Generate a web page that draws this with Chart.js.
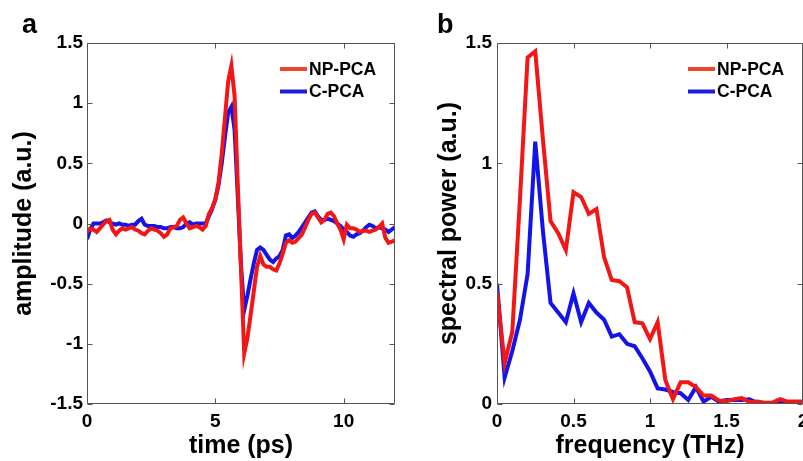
<!DOCTYPE html>
<html><head><meta charset="utf-8">
<script src="https://cdn.jsdelivr.net/npm/chart.js@4"></script>
<style>
html,body{margin:0;padding:0;background:#fff;overflow:hidden;width:803px;height:461px;}
canvas{position:absolute;top:0;}
</style></head><body>
<canvas id="ca" width="400" height="461" style="left:0;width:400px;height:461px"></canvas>
<canvas id="cb" width="420" height="461" style="left:400px;width:420px;height:461px"></canvas>
<script>
// ---------- data ----------
const seriesLabels = ['NP-PCA', 'C-PCA'];

const timePs = [0,0.125,0.25,0.375,0.5,0.625,0.75,0.875,1,1.125,1.25,1.375,1.5,1.625,1.75,1.875,2,2.125,2.25,2.375,2.5,2.625,2.75,2.875,3,3.125,3.25,3.375,3.5,3.625,3.75,3.875,4,4.125,4.25,4.375,4.5,4.625,4.75,4.875,5,5.125,5.25,5.375,5.5,5.625,5.75,5.875,6,6.125,6.25,6.375,6.5,6.625,6.75,6.875,7,7.125,7.25,7.375,7.5,7.625,7.75,7.875,8,8.125,8.25,8.375,8.5,8.625,8.75,8.875,9,9.125,9.25,9.375,9.5,9.625,9.75,9.875,10,10.125,10.25,10.375,10.5,10.625,10.75,10.875,11,11.125,11.25,11.375,11.5,11.625,11.75,11.875,12];

const ampNP = [-0.07,-0.04,-0.05,-0.07,-0.04,-0.01,0.02,0.03,-0.05,-0.09,-0.06,-0.04,-0.05,-0.04,-0.03,-0.05,-0.06,-0.08,-0.09,-0.06,-0.04,-0.05,-0.06,-0.08,-0.11,-0.09,-0.04,-0.03,-0.02,0.03,0.05,0.0,-0.04,-0.03,-0.02,-0.03,-0.05,-0.02,0.08,0.13,0.2,0.34,0.58,0.88,1.18,1.31,1.06,0.32,-0.38,-1.08,-0.95,-0.76,-0.56,-0.36,-0.27,-0.34,-0.36,-0.36,-0.38,-0.39,-0.33,-0.25,-0.16,-0.14,-0.16,-0.15,-0.12,-0.09,-0.03,0.03,0.08,0.09,0.05,0.01,0.03,0.08,0.09,0.06,0.0,-0.05,-0.13,-0.01,-0.04,-0.04,-0.05,-0.07,-0.06,-0.06,-0.07,-0.06,-0.05,-0.03,0.0,-0.12,-0.16,-0.15,-0.14];

const ampC = [-0.13,-0.05,0.0,0.0,0.0,0.01,0.025,0.01,0.0,-0.01,0.0,-0.01,-0.01,-0.02,-0.01,-0.01,0.02,0.04,-0.01,-0.02,-0.02,-0.02,-0.03,-0.03,-0.04,-0.04,-0.03,-0.03,-0.04,-0.04,-0.03,0.0,0.01,-0.01,0.0,0.0,0.0,0.0,0.06,0.12,0.2,0.32,0.5,0.72,0.92,0.97,0.78,0.22,-0.35,-0.72,-0.6,-0.46,-0.33,-0.22,-0.2,-0.22,-0.26,-0.3,-0.32,-0.29,-0.27,-0.22,-0.1,-0.09,-0.12,-0.1,-0.07,-0.03,0.01,0.05,0.09,0.1,0.06,0.03,0.03,0.04,0.03,0.02,0.0,-0.02,-0.05,-0.07,-0.1,-0.11,-0.09,-0.08,-0.06,-0.03,-0.01,-0.02,-0.04,-0.03,-0.04,-0.05,-0.07,-0.05,-0.03];

const freqTHz = [0,0.05,0.1,0.15,0.2,0.25,0.3,0.35,0.4,0.45,0.5,0.55,0.6,0.65,0.7,0.75,0.8,0.85,0.9,0.95,1,1.05,1.1,1.15,1.2,1.25,1.3,1.35,1.4,1.45,1.5,1.55,1.6,1.65,1.7,1.75,1.8,1.85,1.9,1.95,2];

const powNP = [0.47,0.17,0.3,0.85,1.44,1.465,1.1,0.76,0.71,0.64,0.88,0.86,0.79,0.81,0.61,0.515,0.51,0.485,0.34,0.335,0.27,0.34,0.1,0.02,0.09,0.09,0.07,0.035,0.035,0.015,0.012,0.02,0.025,0.008,0.01,0.005,0.006,0.02,0.01,0.01,0.01];

const powC = [0.5,0.11,0.22,0.35,0.54,1.09,0.72,0.42,0.38,0.34,0.46,0.34,0.42,0.38,0.35,0.28,0.29,0.25,0.24,0.19,0.135,0.065,0.06,0.05,0.045,0.017,0.07,0.01,0.03,0.01,0.017,0.017,0.017,0.02,0.005,0.004,0.003,0.004,0.003,0.003,0.003];

const timeTicks = [0, 5, 10];
const ampTicks = [-1.5, -1, -0.5, 0, 0.5, 1, 1.5];
const freqTicks = [0, 0.5, 1, 1.5, 2];
const powTicks = [0, 0.5, 1, 1.5];

// ---------- styling ----------
const FONT = "'Liberation Sans', Arial, Helvetica, sans-serif";
Chart.defaults.font.family = FONT;
Chart.defaults.color = '#000';
const lineColors = ['#f21616', '#1414ea'];
const legendColors = ['#e8472c', '#1c1cd8'];

const framePlugin = {
  id: 'frame',
  afterDatasetsDraw(chart, args, opts) {
    const ctx = chart.ctx;
    const {left, right, top, bottom} = chart.chartArea;
    const xs = chart.scales.x, ys = chart.scales.y;
    ctx.save();
    ctx.strokeStyle = '#555';
    ctx.lineWidth = 1;
    const l = Math.round(left) + 0.5, r = Math.round(right) - 0.5, t = Math.round(top) + 0.5, b = Math.round(bottom) - 0.5;
    ctx.beginPath();
    ctx.rect(l, t, r - l, b - t);
    const L = 5;
    xs.ticks.forEach(tk => {
      const px = Math.round(xs.getPixelForValue(tk.value)) + 0.5;
      ctx.moveTo(px, b); ctx.lineTo(px, b - L);
      ctx.moveTo(px, t); ctx.lineTo(px, t + L);
    });
    ys.ticks.forEach(tk => {
      const py = Math.round(ys.getPixelForValue(tk.value)) + 0.5;
      ctx.moveTo(l, py); ctx.lineTo(l + L, py);
      ctx.moveTo(r, py); ctx.lineTo(r - L, py);
    });
    ctx.stroke();
    // legend
    ctx.font = 'bold 17.5px ' + FONT;
    ctx.textBaseline = 'middle';
    ctx.textAlign = 'left';
    chart.data.datasets.forEach((ds, i) => {
      const y = top + 26 + i * 22.5;
      ctx.strokeStyle = legendColors[i];
      ctx.lineWidth = 4;
      ctx.beginPath();
      ctx.moveTo(right - 115, y); ctx.lineTo(right - 88, y);
      ctx.stroke();
      ctx.fillStyle = '#000';
      ctx.fillText(ds.label, right - 86, y + 1);
    });
    // panel letter
    ctx.font = 'bold 27px ' + FONT;
    ctx.textBaseline = 'alphabetic';
    ctx.fillText(opts.letter, opts.lx, 33);
    ctx.restore();
  }
};

function makeChart(id, xs, ys1, ys2, cfg) {
  const toPts = (arr) => arr.map((v, i) => ({x: xs[i], y: v}));
  return new Chart(document.getElementById(id), {
    type: 'line',
    data: {
      datasets: [
        {label: seriesLabels[0], data: toPts(ys1), borderColor: lineColors[0], borderWidth: 4, pointRadius: 0, tension: 0, order: 1},
        {label: seriesLabels[1], data: toPts(ys2), borderColor: lineColors[1], borderWidth: 4, pointRadius: 0, tension: 0, order: 2}
      ]
    },
    options: {
      responsive: false,
      animation: false,
      devicePixelRatio: 1,
      layout: {padding: {left: 0, top: 43, right: cfg.padRight, bottom: 0}},
      plugins: {legend: {display: false}, tooltip: {enabled: false}, frame: {letter: cfg.letter, lx: cfg.lx}},
      scales: {
        x: {
          type: 'linear', min: cfg.xmin, max: cfg.xmax,
          grid: {display: false, drawTicks: false}, border: {display: false},
          afterBuildTicks: (s) => { s.ticks = cfg.xTicks.map(v => ({value: v})); },
          afterFit: (s) => { s.height = 57; },
          ticks: {font: {size: 19, weight: 'bold'}, padding: 6, maxRotation: 0, autoSkip: false, color: '#000', callback: (v) => String(v)},
          title: {display: true, text: cfg.xTitle, font: {size: 25, weight: 'bold'}, color: '#000', padding: {top: 0, bottom: 0}}
        },
        y: {
          type: 'linear', min: cfg.ymin, max: cfg.ymax,
          grid: {display: false, drawTicks: false}, border: {display: false},
          afterBuildTicks: (s) => { s.ticks = cfg.yTicks.map(v => ({value: v})); },
          afterFit: (s) => { s.width = cfg.yWidth; },
          ticks: {font: {size: 19, weight: 'bold'}, padding: cfg.yPad, autoSkip: false, color: '#000', callback: (v) => String(v)},
          title: {display: true, text: cfg.yTitle, font: {size: 25, weight: 'bold'}, color: '#000', padding: {top: cfg.yTitleTop, bottom: 0}}
        }
      }
    },
    plugins: [framePlugin]
  });
}

makeChart('ca', timePs, ampNP, ampC, {
  xmin: 0, xmax: 12, ymin: -1.5, ymax: 1.5, xTicks: timeTicks, yTicks: ampTicks,
  xTitle: 'time (ps)', yTitle: 'amplitude (a.u.)', yWidth: 87, yPad: 4, yTitleTop: 9,
  padRight: 5, letter: 'a', lx: 22
});
makeChart('cb', freqTHz, powNP, powC, {
  xmin: 0, xmax: 2, ymin: 0, ymax: 1.5, xTicks: freqTicks, yTicks: powTicks,
  xTitle: 'frequency (THz)', yTitle: 'spectral power (a.u.)', yWidth: 97, yPad: 5, yTitleTop: 34,
  padRight: 17, letter: 'b', lx: 37
});
</script>
</body></html>
